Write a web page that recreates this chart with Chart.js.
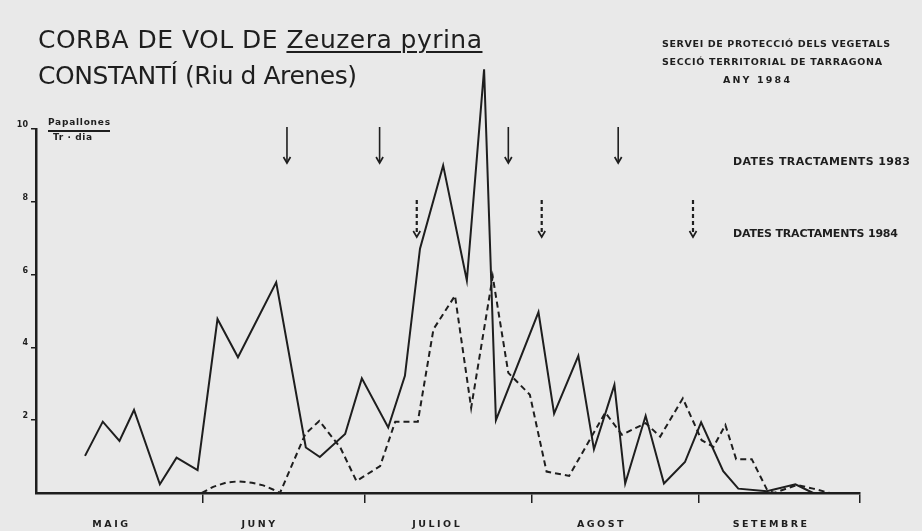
<!DOCTYPE html>
<html>
<head>
<meta charset="utf-8">
<script src="https://cdn.jsdelivr.net/npm/chart.js@4.4.0/dist/chart.umd.min.js"></script>
<style>
html,body{margin:0;padding:0;background:#e9e9e9;}
#wrap{position:relative;width:922px;height:531px;overflow:hidden;background:#e9e9e9;}
#c{position:absolute;left:0;top:0;}
.t{position:absolute;white-space:nowrap;line-height:1;color:#1e1e1e;font-family:"DejaVu Sans",sans-serif;}
.b{font-weight:bold;}
.u{text-decoration:underline;text-decoration-thickness:2px;text-underline-offset:3px;}
#frac{position:absolute;left:48px;top:130px;width:62px;height:1.5px;background:#1e1e1e;}
</style>
</head>
<body>
<div id="wrap">
<canvas id="c" width="922" height="531"></canvas>
<div class="t" data-l="38" data-b="48" data-w="444" style="font-size:25px">CORBA DE VOL DE <span class="u">Zeuzera pyrina</span></div>
<div class="t" data-l="38" data-b="84" data-w="319" style="font-size:25px">CONSTANTÍ (Riu d Arenes)</div>
<div class="t b" data-l="662" data-b="46.7" data-w="228" style="font-size:9.5px">SERVEI DE PROTECCIÓ DELS VEGETALS</div>
<div class="t b" data-l="662" data-b="65.3" data-w="220" style="font-size:9.5px">SECCIÓ TERRITORIAL DE TARRAGONA</div>
<div class="t b" data-l="723" data-b="83.3" data-w="67" style="font-size:9.5px">ANY 1984</div>
<div class="t b" data-l="733" data-b="165" data-w="177" style="font-size:11px">DATES TRACTAMENTS 1983</div>
<div class="t b" data-l="733" data-b="236.7" data-w="165" style="font-size:11px">DATES TRACTAMENTS 1984</div>
<div class="t b" data-l="48" data-b="125" data-w="62" style="font-size:9px">Papallones</div>
<div class="t b" data-l="53" data-b="140" data-w="39" style="font-size:9px">Tr · dia</div>
<div id="frac"></div>
</div>
<script>
// ---- data (x = days counted from 1 May) ----
const monthNames = ['MAIG', 'JUNY', 'JULIOL', 'AGOST', 'SETEMBRE'];
const monthLabelDays = [14, 41.5, 74.5, 105, 136.5];
const monthBoundaryDays = [31, 61, 92, 123, 153];
const yTickValues = [2, 4, 6, 8, 10];

const solidDays   = [9.1, 12.4, 15.5, 18.2, 23, 26.1, 30, 33.7, 37.5, 44.6, 50.1, 52.7, 57.4, 60.5, 65.4, 68.5, 71.3, 75.6, 80, 83.2, 85.4, 93.3, 96.2, 100.7, 103.6, 107.4, 109.4, 113.2, 116.6, 120.5, 123.5, 127.6, 130.4, 135.7, 141, 144.3];
const solidValues = [1.02, 1.96, 1.43, 2.28, 0.24, 0.97, 0.63, 4.78, 3.73, 5.79, 1.25, 0.99, 1.62, 3.15, 1.8, 3.22, 6.71, 9.0, 5.84, 11.64, 2.0, 4.97, 2.18, 3.77, 1.2, 2.97, 0.26, 2.12, 0.26, 0.85, 1.94, 0.6, 0.12, 0.05, 0.24, 0.0];

const dashedDays   = [30.8, 32.9, 35.4, 37.6, 40.1, 42.2, 44.1, 45.3, 50, 52.6, 56.5, 59.5, 63.9, 66.7, 70.9, 73.8, 77.8, 80.8, 84.8, 87.7, 91.7, 94.8, 99, 105.7, 108.8, 113.2, 115.9, 120.1, 123.6, 125.8, 128, 130, 132.9, 135.7, 137, 141.3, 144.3, 147.4];
const dashedValues = [0, 0.17, 0.29, 0.32, 0.28, 0.21, 0.09, 0, 1.62, 1.98, 1.25, 0.33, 0.74, 1.96, 1.96, 4.5, 5.42, 2.34, 5.95, 3.3, 2.7, 0.59, 0.47, 2.21, 1.6, 1.92, 1.55, 2.6, 1.45, 1.27, 1.87, 0.93, 0.93, 0.1, 0, 0.22, 0.12, 0];

const treatDays1983 = [46.6, 63.8, 87.7, 108.1];
const treatDays1984 = [70.7, 93.9];

const ink = '#1e1e1e';

// ---- place text ----
function placeTexts() {
  document.querySelectorAll('.t').forEach(el => {
    const m = document.createElement('span');
    m.style.cssText = 'display:inline-block;width:0;height:0;vertical-align:baseline';
    el.appendChild(m);
    const base = m.offsetTop;
    el.removeChild(m);
    const r = document.createRange();
    r.selectNodeContents(el);
    const w = r.getBoundingClientRect().width;
    const n = el.textContent.length;
    const tw = parseFloat(el.dataset.w);
    if (n > 1) el.style.letterSpacing = ((tw - w) / (n - 1)) + 'px';
    el.style.left = el.dataset.l + 'px';
    el.style.top = (parseFloat(el.dataset.b) - base) + 'px';
  });
}
placeTexts();

// ---- arrows plugin ----
const arrowPlugin = {
  id: 'arrows',
  afterDatasetsDraw(chart) {
    const { ctx, scales: { x, y } } = chart;
    const draw = (px, top, bottom, dashed) => {
      ctx.save();
      ctx.strokeStyle = ink;
      ctx.lineWidth = dashed ? 2.2 : 1.6;
      ctx.setLineDash(dashed ? [4, 3] : []);
      ctx.beginPath(); ctx.moveTo(px, top); ctx.lineTo(px, bottom - 1); ctx.stroke();
      ctx.setLineDash([]);
      ctx.lineWidth = 1.7;
      ctx.beginPath(); ctx.moveTo(px - 3.5, bottom - 6); ctx.lineTo(px, bottom); ctx.lineTo(px + 3.5, bottom - 6); ctx.stroke();
      ctx.restore();
    };
    const t = y.top;
    treatDays1983.forEach(d => draw(x.getPixelForValue(d), t - 2, t + 34, false));
    treatDays1984.forEach(d => draw(x.getPixelForValue(d), t + 71, t + 108, true));
    // legend arrow for 1984
    draw(693, t + 71, t + 108, true);
  }
};
// wider letter spacing for the month labels only
const spacingPlugin = {
  id: 'spacing',
  afterLayout(chart) {
    const xs = chart.scales.x;
    if (xs && !xs._spaced) {
      const orig = xs.drawLabels;
      xs.drawLabels = function (area) {
        const ctx = this.ctx;
        const prev = ctx.letterSpacing;
        ctx.letterSpacing = '2.5px';
        orig.call(this, area);
        ctx.letterSpacing = prev || '0px';
      };
      xs._spaced = true;
    }
  }
};

const toPts = (xs, ys) => xs.map((d, i) => ({ x: d, y: ys[i] }));

new Chart(document.getElementById('c'), {
  type: 'line',
  data: {
    datasets: [
      { data: toPts(solidDays, solidValues), borderColor: ink, borderWidth: 2, pointRadius: 0, tension: 0, clip: false, fill: false },
      { data: toPts(dashedDays, dashedValues), borderColor: ink, borderWidth: 2, borderDash: [6, 4], pointRadius: 0, tension: 0, clip: false, fill: false }
    ]
  },
  options: {
    responsive: false,
    animation: false,
    devicePixelRatio: 1,
    layout: { padding: { top: 129, right: 62, left: 0, bottom: 0 } },
    plugins: { legend: { display: false }, tooltip: { enabled: false }, title: { display: false } },
    scales: {
      x: {
        type: 'linear', min: 0, max: 153,
        afterBuildTicks: s => { s.ticks = [...monthBoundaryDays, ...monthLabelDays].sort((a, b) => a - b).map(v => ({ value: v })); },
        afterFit: s => { s.height = 38; },
        border: { display: true, color: ink, width: 2.5 },
        grid: { drawOnChartArea: false, drawTicks: true, tickLength: 10, lineWidth: 1.5,
                color: c => (c.tick && monthBoundaryDays.includes(c.tick.value)) ? ink : 'rgba(0,0,0,0)' },
        ticks: { autoSkip: false, maxRotation: 0, padding: 16, color: ink,
                 font: { family: 'DejaVu Sans', weight: 'bold', size: 9.5 },
                 callback: v => { const i = monthLabelDays.indexOf(v); return i >= 0 ? monthNames[i] : ''; } }
      },
      y: {
        min: 0, max: 10,
        afterBuildTicks: s => { s.ticks = yTickValues.map(v => ({ value: v })); },
        afterFit: s => { s.width = 36; },
        border: { display: true, color: ink, width: 2.5 },
        grid: { drawOnChartArea: false, drawTicks: true, tickLength: 5, lineWidth: 1.5, color: ink },
        ticks: { padding: 3, labelOffset: -4, color: ink, font: { family: 'DejaVu Sans', weight: 'bold', size: 8 } }
      }
    }
  },
  plugins: [arrowPlugin, spacingPlugin]
});
</script>
</body>
</html>
